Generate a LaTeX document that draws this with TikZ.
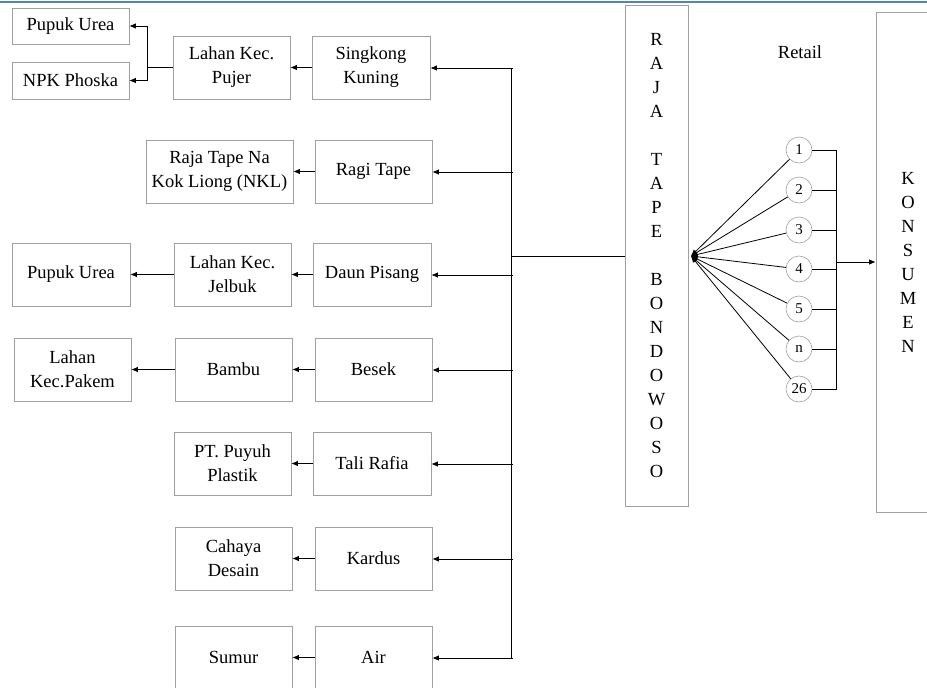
\documentclass[tikz,border=0pt]{standalone}
\usepackage{fontspec}
\setmainfont{Liberation Serif}
\usetikzlibrary{arrows.meta}
\definecolor{boxgray}{RGB}{160,160,160}
\definecolor{headblue}{RGB}{84,130,190}
\tikzset{
  box/.style={draw=boxgray, line width=0.7pt, inner sep=0pt, align=center,
    minimum width=117pt, minimum height=63pt, font=\fontsize{18.5}{24}\selectfont},
  tallbox/.style={draw=boxgray, line width=0.7pt, inner sep=0pt, align=center,
    minimum width=63pt, font=\fontsize{18.5}{24}\selectfont},
  retail/.style={draw=boxgray, line width=0.6pt, circle, inner sep=0pt, minimum size=26pt,
    font=\fontsize{15}{17}\selectfont},
  conn/.style={line width=0.8pt, black},
  arr/.style={conn, -{Latex[length=6.5pt,width=5.5pt]}},
}
\begin{document}
\begin{tikzpicture}[x=1pt,y=-1pt]
\useasboundingbox (0,0) rectangle (927,688);
\clip (0,0) rectangle (927,688);
\draw[headblue, line width=2.2pt] (0,2) -- (927,2);

% boxes
\node[box, minimum height=36pt] (pu1) at (70.5,26) {Pupuk Urea};
\node[box, minimum height=37pt] (npk) at (70.5,80.5) {NPK Phoska};
\node[box] (pujer) at (231.5,67.5) {Lahan Kec.\\Pujer};
\node[box, minimum width=118pt] (singkong) at (371,67.5) {Singkong\\Kuning};
\node[box, minimum width=147pt] (nkl) at (219.5,171.5) {Raja Tape Na\\Kok Liong (NKL)};
\node[box] (ragi) at (373.5,171.5) {Ragi Tape};
\node[box, minimum width=118pt] (pu2) at (71,274.5) {Pupuk Urea};
\node[box] (jelbuk) at (232.5,274.5) {Lahan Kec.\\Jelbuk};
\node[box, minimum width=118pt] (daun) at (372,274.5) {Daun Pisang};
\node[box] (pakem) at (72.5,369.5) {Lahan\\Kec.Pakem};
\node[box] (bambu) at (233.5,369.5) {Bambu};
\node[box] (besek) at (373.5,369.5) {Besek};
\node[box] (puyuh) at (232.5,463.5) {PT. Puyuh\\Plastik};
\node[box, minimum width=118pt] (tali) at (372,463.5) {Tali Rafia};
\node[box] (cahaya) at (233.5,558.5) {Cahaya\\Desain};
\node[box] (kardus) at (373.5,558.5) {Kardus};
\node[box] (sumur) at (233.5,657.5) {Sumur};
\node[box] (air) at (373.5,657.5) {Air};

\node[tallbox, minimum height=501pt] (raja) at (656.5,255.5)
  {R\\A\\J\\A\\\strut\\T\\A\\P\\E\\\strut\\B\\O\\N\\D\\O\\W\\O\\S\\O};
\node[tallbox, minimum width=64pt, minimum height=500pt] (kons) at (908,262)
  {K\\O\\N\\S\\U\\M\\E\\N};

\node[font=\fontsize{18.5}{24}\selectfont, inner sep=0pt] (retaillbl) at (800,52) {Retail};

% bus on the left of Raja Tape
\coordinate (bt) at (511,68);
\coordinate (bb) at (511,658);
\draw[conn] (bt) -- (bb);
\draw[conn] (511,256) -- (raja.west |- 0,256);
\draw[arr] (513,68) -- (singkong.east |- 0,68);
\draw[arr] (513,172) -- (ragi.east |- 0,172);
\draw[arr] (513,275) -- (daun.east |- 0,275);
\draw[arr] (513,370) -- (besek.east |- 0,370);
\draw[arr] (513,464) -- (tali.east |- 0,464);
\draw[arr] (513,559) -- (kardus.east |- 0,559);
\draw[arr] (513,658) -- (air.east |- 0,658);

% second level
\draw[arr] (singkong.west) -- (pujer.east);
\draw[arr] (ragi.west) -- (nkl.east);
\draw[arr] (daun.west) -- (jelbuk.east);
\draw[arr] (jelbuk.west) -- (pu2.east);
\draw[arr] (besek.west) -- (bambu.east);
\draw[arr] (bambu.west) -- (pakem.east);
\draw[arr] (tali.west) -- (puyuh.east);
\draw[arr] (kardus.west) -- (cahaya.east);
\draw[arr] (air.west) -- (sumur.east);

% fertiliser fork
\coordinate (fk) at (147,67.5);
\draw[conn] (pujer.west) -- (fk);
\draw[arr] (fk) |- (pu1.east);
\draw[arr] (fk) |- (npk.east);

% retailers
\coordinate (cv) at (691,256);
\foreach \n/\t/\yy in {r1/1/150, r2/2/190, r3/3/230, r4/4/269, r5/5/309, rn/n/349, r26/26/389}{
  \node[retail] (\n) at (799,\yy) {\t};
  \draw[arr] (\n) -- (cv);
  \draw[conn] (\n.east) -- (837,\yy);
}
\draw[conn] (836,150) -- (836,389);
\coordinate (rk) at (836,262);
\draw[arr] (rk) -- (kons.west |- rk);
\end{tikzpicture}
\end{document}
